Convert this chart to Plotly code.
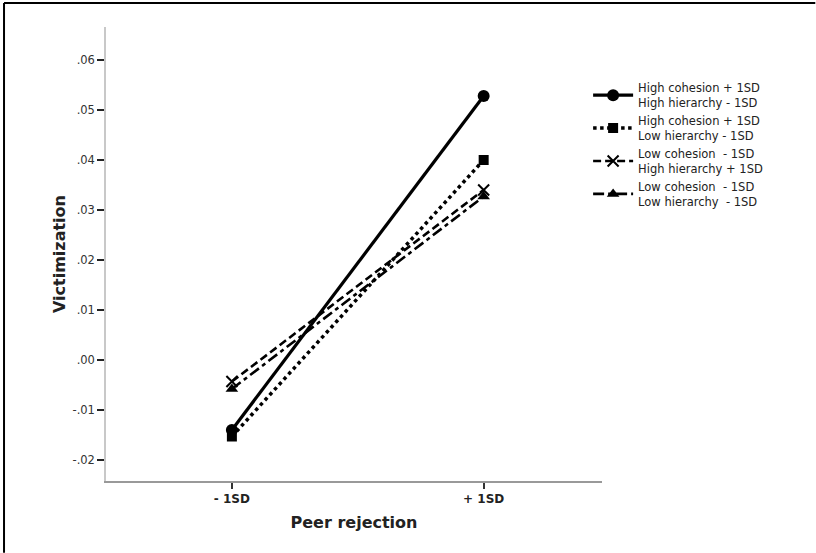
import plotly.graph_objects as go

categories = ["- 1SD", "+ 1SD"]
series_names = [
    "High cohesion + 1SD<br>High hierarchy - 1SD",
    "High cohesion + 1SD<br>Low hierarchy - 1SD",
    "Low cohesion  - 1SD<br>High hierarchy + 1SD",
    "Low cohesion  - 1SD<br>Low hierarchy  - 1SD",
]
hc_hh = [-0.0140, 0.0528]
hc_lh = [-0.0153, 0.0400]
lc_hh = [-0.0043, 0.0340]
lc_lh = [-0.0058, 0.0327]
y_tick_vals = [-0.02, -0.01, 0.00, 0.01, 0.02, 0.03, 0.04, 0.05, 0.06]
y_tick_text = ["-.02", "-.01", ".00", ".01", ".02", ".03", ".04", ".05", ".06"]

xpos = list(range(len(categories)))
styles = [
    dict(dash="solid", width=3.2, symbol="circle", size=12),
    dict(dash="dot", width=3.5, symbol="square", size=10),
    dict(dash="8px,4px", width=2.6, symbol="x-thin-open", size=11),
    dict(dash="11px,4px,4px,4px", width=2.6, symbol="triangle-up", size=11),
]
data = [hc_hh, hc_lh, lc_hh, lc_lh]

fig = go.Figure()
for name, vals, st in zip(series_names, data, styles):
    fig.add_trace(go.Scatter(
        x=xpos, y=vals, name=name, mode="lines+markers",
        line=dict(color="black", width=st["width"], dash=st["dash"]),
        marker=dict(symbol=st["symbol"], size=st["size"], color="black",
                    line=dict(color="black", width=2 if "x" in st["symbol"] else 0)),
    ))

font = "DejaVu Sans, Liberation Sans, sans-serif"
fig.update_layout(
    width=816, height=553,
    margin=dict(l=106, r=214, t=27, b=72),
    paper_bgcolor="white", plot_bgcolor="white",
    font=dict(family=font, color="#222", size=12),
    showlegend=True,
    legend=dict(x=0.972, y=0.897, xanchor="left", yanchor="top",
                font=dict(size=11.5, color="#222", family=font), bgcolor="rgba(0,0,0,0)",
                tracegroupgap=0, itemwidth=40),
    xaxis=dict(range=[-0.5, 1.47], tickvals=xpos, ticktext=categories,
               showgrid=False, zeroline=False, showline=True,
               linecolor="#999", linewidth=1.5,
               ticks="outside", ticklen=6, tickcolor="#333", tickwidth=1.5,
               tickfont=dict(size=12, family=font, color="#222", weight="bold"),
               title=dict(text="<b>Peer rejection</b>", font=dict(size=16, color="#222", family=font), standoff=12)),
    yaxis=dict(range=[-0.0242, 0.0666], tickvals=y_tick_vals, ticktext=y_tick_text,
               showgrid=False, zeroline=False, showline=True,
               linecolor="#c8c8c8", linewidth=1.5,
               ticks="outside", ticklen=7, tickcolor="#222", tickwidth=1.5,
               tickfont=dict(size=11.5, color="#333", family=font),
               title=dict(text="<b>Victimization</b>", font=dict(size=16, color="#222", family=font), standoff=3)),
)

# frame lines (top and left border of the picture)
fig.add_shape(type="line", xref="paper", yref="paper",
              x0=-0.2056, x1=1.43, y0=1.0529, y1=1.0529,
              line=dict(color="black", width=2))
fig.add_shape(type="line", xref="paper", yref="paper",
              x0=-0.2056, x1=-0.2056, y0=1.0529, y1=-0.158,
              line=dict(color="black", width=2))

fig.write_html("out.html", config={"displayModeBar": False},
               post_script="document.documentElement.style.overflow='hidden';"
                           "document.body.style.margin='0';document.body.style.overflow='hidden';")
